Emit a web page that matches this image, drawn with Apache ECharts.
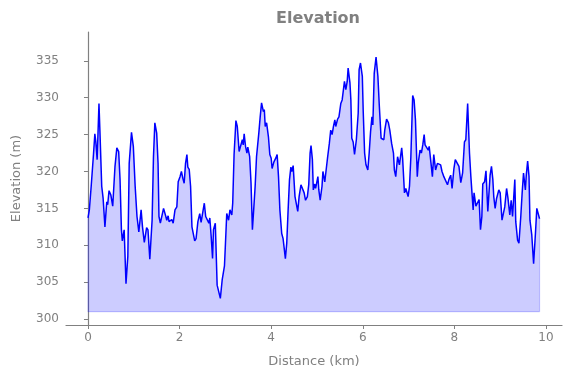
<!DOCTYPE html>
<html>
<head>
    <meta charset="utf-8"/>
    <script src="https://cdn.jsdelivr.net/npm/echarts@6/dist/echarts.min.js"></script>
</head>
<body style="margin:0">
<div id="main" style="width: 571px;height:378px;"></div>
<script type="text/javascript">
    // distance (km) and elevation (m)
    var distance = [
        0.00, 0.03, 0.07, 0.12, 0.15, 0.17, 0.20, 0.24, 0.26, 0.30, 0.33, 0.37, 0.41, 0.43, 0.46, 0.50,
        0.54, 0.59, 0.63, 0.67, 0.70, 0.73, 0.75, 0.79, 0.83, 0.87, 0.90, 0.95, 0.99, 1.03, 1.07, 1.11,
        1.16, 1.19, 1.23, 1.28, 1.31, 1.35, 1.40, 1.43, 1.46, 1.50, 1.53, 1.55, 1.58, 1.62, 1.65, 1.68,
        1.70, 1.72, 1.75, 1.77, 1.80, 1.83, 1.86, 1.90, 1.94, 1.97, 2.01, 2.04, 2.07, 2.10, 2.13, 2.16,
        2.18, 2.21, 2.24, 2.27, 2.30, 2.33, 2.36, 2.40, 2.44, 2.47, 2.50, 2.54, 2.57, 2.60, 2.64, 2.66,
        2.69, 2.72, 2.74, 2.78, 2.80, 2.82, 2.85, 2.89, 2.93, 2.98, 3.00, 3.03, 3.07, 3.10, 3.14, 3.16,
        3.19, 3.23, 3.26, 3.30, 3.33, 3.37, 3.39, 3.41, 3.44, 3.47, 3.49, 3.53, 3.56, 3.59, 3.62, 3.65,
        3.68, 3.73, 3.76, 3.79, 3.83, 3.85, 3.87, 3.90, 3.94, 3.97, 4.00, 4.02, 4.06, 4.10, 4.13, 4.16,
        4.19, 4.23, 4.26, 4.31, 4.34, 4.37, 4.40, 4.43, 4.45, 4.48, 4.52, 4.55, 4.58, 4.61, 4.65, 4.68,
        4.72, 4.75, 4.79, 4.82, 4.85, 4.87, 4.90, 4.92, 4.95, 4.97, 5.02, 5.04, 5.07, 5.11, 5.13, 5.17,
        5.20, 5.23, 5.27, 5.30, 5.33, 5.36, 5.39, 5.41, 5.45, 5.48, 5.52, 5.55, 5.57, 5.60, 5.63, 5.66,
        5.68, 5.72, 5.74, 5.76, 5.79, 5.82, 5.86, 5.90, 5.92, 5.95, 5.99, 6.01, 6.04, 6.07, 6.11, 6.14,
        6.17, 6.20, 6.22, 6.25, 6.29, 6.33, 6.36, 6.40, 6.46, 6.48, 6.52, 6.56, 6.59, 6.63, 6.67, 6.69,
        6.72, 6.76, 6.80, 6.85, 6.87, 6.91, 6.94, 6.99, 7.02, 7.05, 7.09, 7.12, 7.15, 7.19, 7.21, 7.25,
        7.28, 7.31, 7.34, 7.36, 7.40, 7.43, 7.45, 7.49, 7.52, 7.55, 7.59, 7.63, 7.66, 7.70, 7.73, 7.77,
        7.81, 7.85, 7.88, 7.92, 7.95, 7.99, 8.02, 8.06, 8.10, 8.14, 8.18, 8.22, 8.25, 8.29, 8.33, 8.36,
        8.41, 8.43, 8.47, 8.50, 8.54, 8.57, 8.60, 8.62, 8.66, 8.69, 8.73, 8.75, 8.78, 8.81, 8.84, 8.86,
        8.89, 8.92, 8.97, 9.00, 9.04, 9.07, 9.10, 9.14, 9.17, 9.21, 9.24, 9.27, 9.32, 9.34, 9.38, 9.41,
        9.45, 9.48, 9.51, 9.55, 9.57, 9.60, 9.63, 9.65, 9.69, 9.73, 9.77, 9.80, 9.83, 9.86
    ];
    var elevation = [
        313.7, 314.8, 318.0, 322.3, 325.1, 324.1, 321.6, 329.2, 325.6, 318.0, 316.4, 312.5, 315.9, 315.5, 317.4, 316.8,
        315.3, 320.7, 323.2, 322.7, 318.9, 312.1, 310.6, 312.1, 304.8, 308.5, 321.1, 325.3, 323.4, 318.0, 313.9, 311.8,
        314.8, 312.5, 310.4, 312.4, 312.1, 308.1, 313.4, 322.0, 326.6, 325.2, 321.1, 313.9, 313.0, 313.0, 315.0, 315.2,
        313.9, 313.4, 314.0, 313.2, 313.1, 313.5, 313.0, 314.8, 315.2, 318.6, 319.3, 320.0, 319.1, 318.4, 321.1, 322.3,
        320.6, 320.3, 318.0, 312.5, 312.3, 310.6, 310.9, 313.2, 314.3, 313.1, 313.2, 315.7, 313.9, 313.7, 313.0, 313.7,
        311.2, 308.2, 312.1, 313.0, 313.0, 304.6, 304.4, 302.8, 305.3, 307.2, 310.0, 314.3, 313.4, 314.8, 314.1, 315.7,
        322.3, 326.9, 326.1, 322.7, 322.5, 324.3, 323.6, 325.1, 323.4, 322.5, 323.3, 322.0, 318.4, 312.1, 315.0, 318.0,
        322.0, 325.2, 327.4, 329.3, 328.1, 328.4, 326.1, 326.6, 324.7, 322.3, 321.8, 320.4, 321.3, 321.8, 322.3, 319.3,
        314.8, 311.6, 310.9, 308.2, 310.3, 314.8, 318.9, 320.6, 320.0, 320.8, 316.6, 316.6, 314.6, 316.6, 318.2, 318.4,
        317.1, 316.1, 316.6, 318.2, 322.5, 323.5, 321.6, 317.5, 318.3, 317.7, 319.3, 317.5, 316.1, 318.0, 320.0, 318.6,
        320.2, 321.8, 323.8, 325.6, 325.0, 326.1, 327.0, 326.1, 327.1, 327.4, 329.2, 329.7, 329.8, 332.2, 331.1, 332.2,
        334.0, 332.0, 329.7, 324.5, 324.0, 322.3, 324.3, 327.9, 333.8, 334.7, 332.9, 328.1, 322.5, 320.9, 320.2, 322.5,
        325.4, 327.4, 326.3, 333.3, 335.5, 332.9, 329.0, 324.5, 324.3, 325.6, 327.1, 326.6, 325.6, 323.8, 322.5, 320.2,
        319.3, 322.0, 320.9, 323.2, 321.8, 317.1, 317.7, 316.6, 318.0, 322.0, 330.3, 329.7, 327.0, 319.3, 321.1, 322.9,
        322.5, 323.6, 325.0, 323.6, 323.6, 322.9, 323.4, 321.1, 319.3, 322.3, 320.2, 321.1, 321.0, 320.9, 320.0, 319.3,
        319.1, 318.2, 318.9, 319.5, 317.7, 320.4, 321.6, 321.7, 320.7, 318.5, 319.8, 324.0, 324.3, 329.2, 322.5, 319.3,
        314.8, 317.1, 315.3, 315.7, 316.2, 312.1, 313.9, 318.3, 318.6, 320.1, 314.6, 314.4, 319.5, 320.7, 318.9, 316.6,
        315.0, 316.3, 317.5, 317.1, 313.4, 313.4, 315.2, 317.7, 316.4, 314.1, 316.1, 313.9, 318.9, 313.2, 310.7, 310.3,
        313.9, 317.1, 319.8, 317.5, 319.5, 321.4, 319.3, 313.4, 311.4, 307.5, 311.6, 315.0, 314.8, 313.6
    ];
    var baseElevation = 301;
    var xTicks = [0, 2, 4, 6, 8, 10];
    var yTicks = [300, 305, 310, 315, 320, 325, 330, 335];

    var profile = distance.map(function (d, i) { return [d, elevation[i]]; });
    var last = distance.length - 1;
    // outline of the filled area (sides and floor)
    var outline = [
        [distance[0], elevation[0]], [distance[0], baseElevation],
        [distance[last], baseElevation], [distance[last], elevation[last]]
    ];

    var grey = '#808080';
    var myChart = echarts.init(document.getElementById('main'));

    option = {
        animation: false,
        title: {
            text: 'Elevation',
            left: 313,
            top: 6,
            textAlign: 'center',
            textStyle: {color: grey, fontSize: 16, fontWeight: 'bold', fontFamily: 'DejaVu Sans'}
        },
        grid: {left: 66, right: 9, top: 32, bottom: 53, outerBoundsMode: 'none', containLabel: false},
        xAxis: {
            type: 'value',
            min: -0.48,
            max: 10.35,
            name: 'Distance (km)',
            nameLocation: 'middle',
            nameGap: 30,
            nameTextStyle: {color: grey, fontSize: 13, fontFamily: 'DejaVu Sans'},
            splitLine: {show: false},
            axisLine: {lineStyle: {color: grey, width: 1.2}},
            axisTick: {show: true, length: 4, customValues: xTicks, lineStyle: {color: grey}},
            axisLabel: {customValues: xTicks, color: grey, fontSize: 12, margin: 7, fontFamily: 'DejaVu Sans'}
        },
        yAxis: {
            type: 'value',
            min: 299.2,
            max: 338.9,
            name: 'Elevation (m)',
            nameLocation: 'middle',
            nameGap: 43,
            nameTextStyle: {color: grey, fontSize: 13, fontFamily: 'DejaVu Sans'},
            splitLine: {show: false},
            axisLine: {show: true, lineStyle: {color: grey, width: 1.2}},
            axisTick: {show: true, length: 4, customValues: yTicks, lineStyle: {color: grey}},
            axisLabel: {customValues: yTicks, color: grey, fontSize: 12, margin: 7, fontFamily: 'DejaVu Sans'}
        },
        series: [
            {
                name: 'outline',
                type: 'line',
                data: outline,
                symbol: 'none',
                silent: true,
                lineStyle: {color: 'rgba(0,0,255,0.2)', width: 1.2}
            },
            {
                name: 'Elevation',
                type: 'line',
                data: profile,
                symbol: 'none',
                lineStyle: {color: '#0000ff', width: 1.5},
                areaStyle: {color: 'rgba(0,0,255,0.2)', origin: baseElevation, opacity: 1}
            }
        ]
    };

    myChart.setOption(option);
</script>
</body>
</html>
